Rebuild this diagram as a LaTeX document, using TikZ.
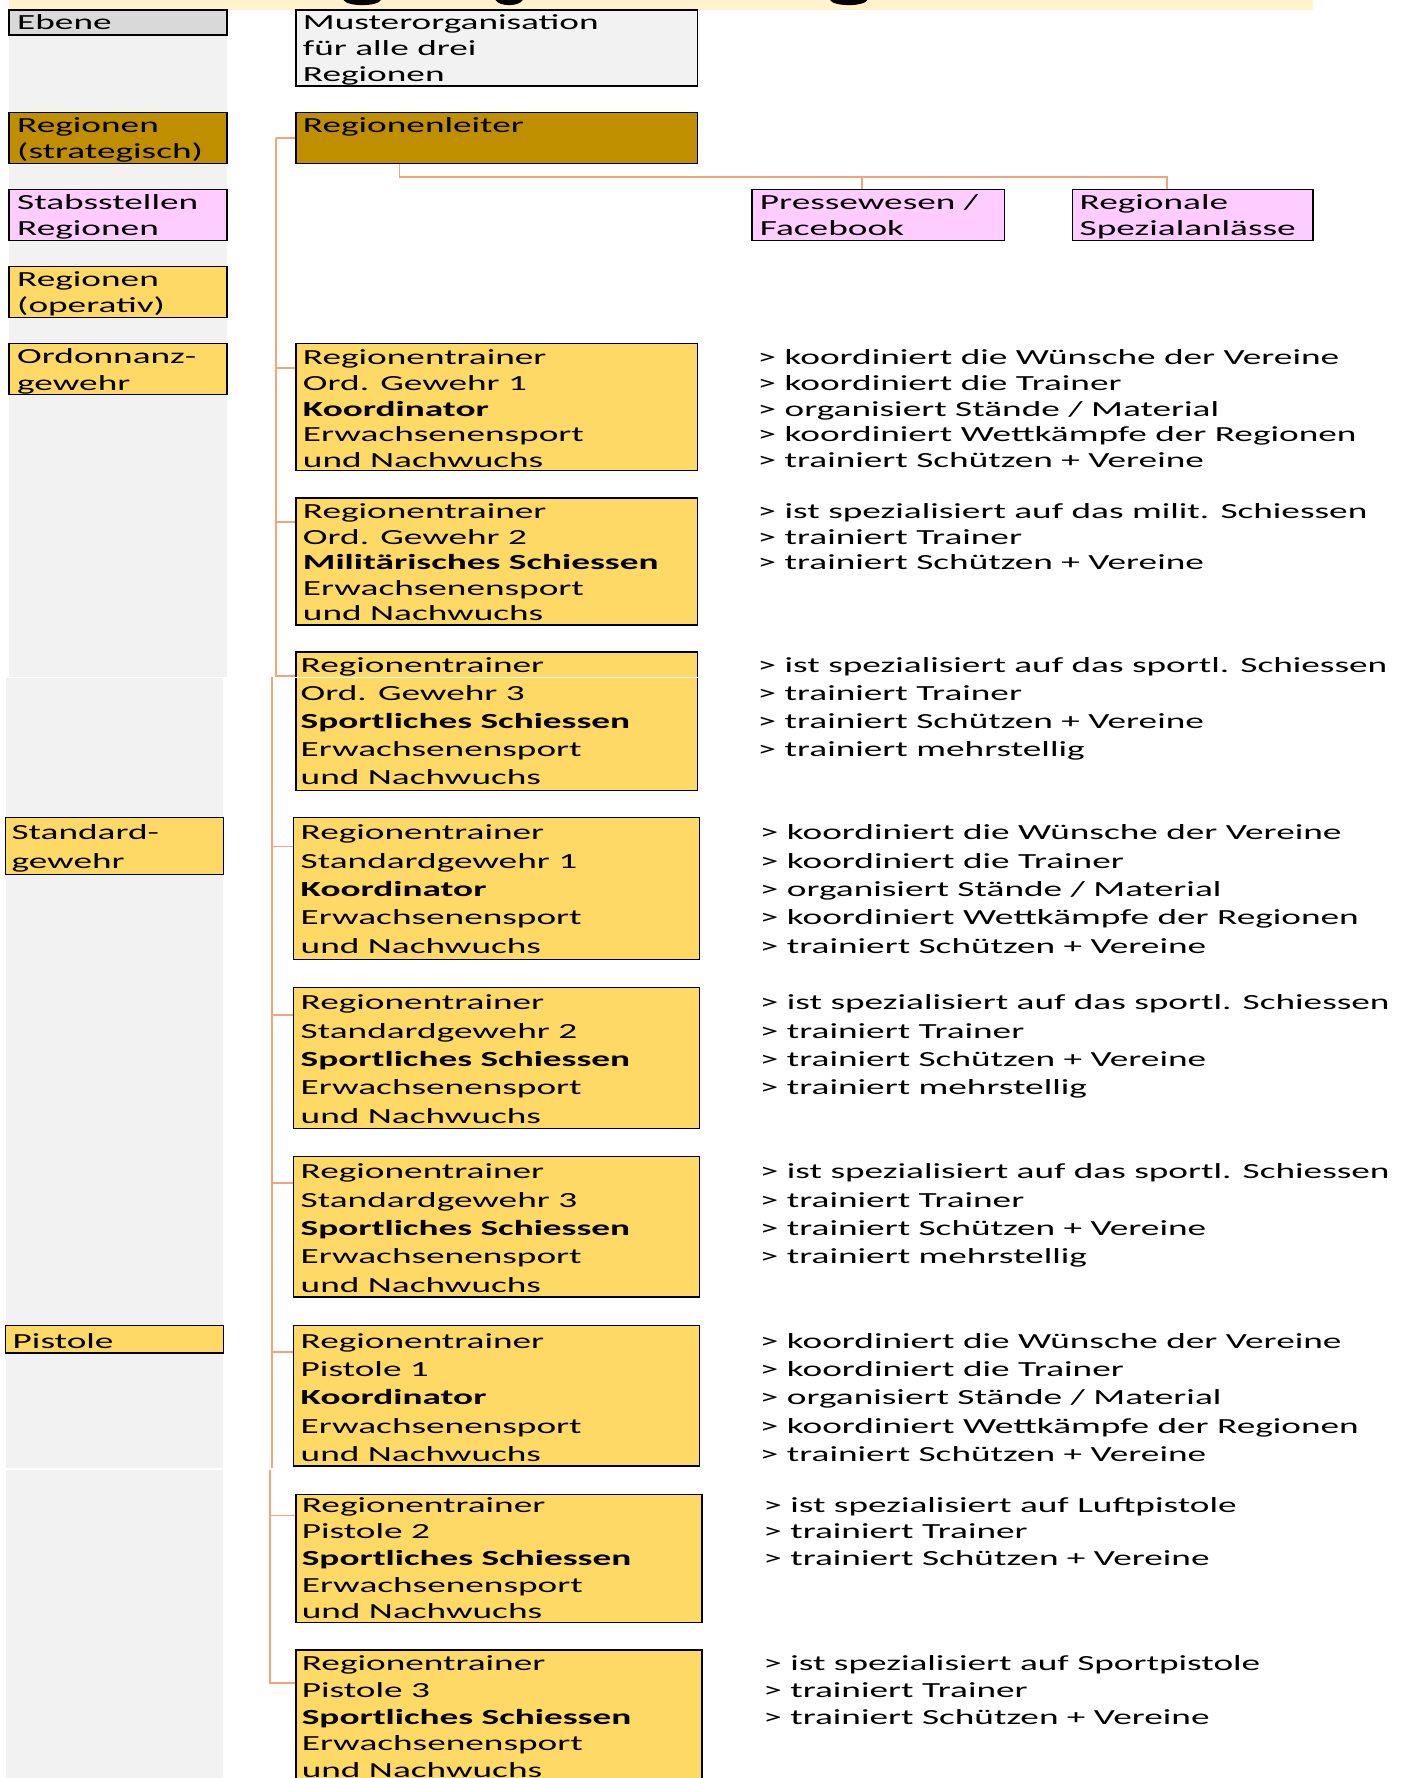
\documentclass[tikz,border=0pt]{standalone}
\usepackage{fontspec}
\setmainfont{Carlito}[FakeStretch=1.73]
\usetikzlibrary{fit,calc}
\definecolor{grcol}{HTML}{F2F2F2}
\definecolor{ebenecol}{HTML}{D9D9D9}
\definecolor{goldcol}{HTML}{BF8F00}
\definecolor{pinkcol}{HTML}{FFCCFF}
\definecolor{ylcol}{HTML}{FFD966}
\definecolor{bandcol}{HTML}{FFF2CC}
\definecolor{conncol}{RGB}{244,165,120}
\newcommand\lns[2]{{\fontsize{19}{#1}\selectfont\begin{tabular}[t]{@{}l@{}}#2\end{tabular}}}
\newcommand\descA{> koordiniert die Wünsche der Vereine\\> koordiniert die Trainer\\> organisiert Stände / Material\\> koordiniert Wettkämpfe der Regionen\\> trainiert Schützen + Vereine}
\newcommand\descS{> ist spezialisiert auf das sportl. Schiessen\\> trainiert Trainer\\> trainiert Schützen + Vereine\\> trainiert mehrstellig}
\begin{document}
\begin{tikzpicture}[x=1pt,y=-1pt,
  boxst/.style={draw=black, line width=1.3pt, inner sep=0pt, rectangle},
  txt/.style={anchor=base west, inner sep=0pt},
  link/.style={draw=conncol, line width=1.4pt}]
\useasboundingbox (0,0) rectangle (1240,1568);
\clip (0,0) rectangle (1240,1568);
\fill[white] (0,0) rectangle (1240,1568);
% title band (cut off)
\fill[bandcol] (8,0) rectangle (1158,9);
\fill[black] (303,0) .. controls (306,6) and (333,6) .. (336,0) -- cycle;
\fill[black] (437,0) .. controls (440,6) and (458,6) .. (461,0) -- cycle;
\fill[black] (732,0) .. controls (735,6) and (762,6) .. (765,0) -- cycle;
% grey level column
\fill[grcol] (8,9) rectangle (200,597);
\fill[grcol] (5,598) rectangle (197,1295);
\fill[grcol] (5,1296) rectangle (197,1570);
% level labels
\node[boxst, fill=ebenecol, fit={(8,9) (200,31)}] (ebene) {};
\node[txt] (ebenet) at (15,26) {\lns{23}{Ebene}};
\node[boxst, fill=goldcol, fit={(8,99) (200,144)}] (strat) {};
\node[txt] (stratt) at (15,117) {\lns{22.5}{Regionen\\(strategisch)}};
\node[boxst, fill=pinkcol, fit={(8,167) (200,212)}] (stabs) {};
\node[txt] (stabst) at (15,185) {\lns{23}{Stabsstellen\\Regionen}};
\node[boxst, fill=ylcol, fit={(8,235) (200,280)}] (oper) {};
\node[txt] (opert) at (15,253) {\lns{23}{Regionen\\(operativ)}};
\node[boxst, fill=ylcol, fit={(8,303) (200,348)}] (ordo) {};
\node[txt] (ordot) at (15,321) {\lns{23}{Ordonnanz-\\gewehr}};
\node[boxst, fill=ylcol, fit={(5,721) (197,771)}] (std) {};
\node[txt] (stdt) at (10,740) {\lns{26}{Standard-\\gewehr}};
\node[boxst, fill=ylcol, fit={(5,1169) (197,1193)}] (pist) {};
\node[txt] (pistt) at (11,1189) {\lns{23}{Pistole}};
% upper boxes
\node[boxst, fill=grcol, fit={(261,9) (615,76)}] (muster) {};
\node[txt] (mustert) at (267,26) {\lns{23}{Musterorganisation\\für alle drei\\Regionen}};
\node[boxst, fill=goldcol, fit={(261,99) (615,144)}] (leiter) {};
\node[txt] (leitert) at (267,117) {\lns{23}{Regionenleiter}};
\node[boxst, fill=pinkcol, fit={(663,167) (886,212)}] (presse) {};
\node[txt] (presset) at (670,185) {\lns{23}{Pressewesen /\\Facebook}};
\node[boxst, fill=pinkcol, fit={(946,167) (1158,212)}] (regio) {};
\node[txt] (regiot) at (952,185) {\lns{23}{Regionale\\Spezialanlässe}};
% trainer boxes
\node[boxst, fill=ylcol, fit={(261,303) (615,415)}] (t1) {};
\node[boxst, fill=ylcol, fit={(261,439) (615,551)}] (t2) {};
\node[boxst, fill=ylcol, fit={(261,575) (615,697)}] (t3) {};
\draw[white, line width=1pt] (258,597.5) -- (619,597.5);
\node[boxst, fill=ylcol, fit={(259,721) (617,846)}] (t4) {};
\node[boxst, fill=ylcol, fit={(259,871) (617,995)}] (t5) {};
\node[boxst, fill=ylcol, fit={(259,1020) (617,1144)}] (t6) {};
\node[boxst, fill=ylcol, fit={(259,1169) (617,1293)}] (t7) {};
\node[boxst, fill=ylcol, fit={(261,1318) (619,1431)}] (t8) {};
\node[boxst, fill=ylcol, fit={(261,1455) (619,1590)}] (t9) {};
\node[txt] (t1t) at (267,321.5) {\lns{22.75}{Regionentrainer\\Ord. Gewehr 1\\\textbf{Koordinator}\\Erwachsenensport\\und Nachwuchs}};
\node[txt] (t2t) at (267,457.5) {\lns{22.5}{Regionentrainer\\Ord. Gewehr 2\\\textbf{Militärisches Schiessen}\\Erwachsenensport\\und Nachwuchs}};
\node[txt] (t3t) at (265,593.5) {\lns{24.5}{Regionentrainer\\Ord. Gewehr 3\\\textbf{Sportliches Schiessen}\\Erwachsenensport\\und Nachwuchs}};
\node[txt] (t4t) at (265,740.5) {\lns{25}{Regionentrainer\\Standardgewehr 1\\\textbf{Koordinator}\\Erwachsenensport\\und Nachwuchs}};
\node[txt] (t5t) at (265,890.5) {\lns{25}{Regionentrainer\\Standardgewehr 2\\\textbf{Sportliches Schiessen}\\Erwachsenensport\\und Nachwuchs}};
\node[txt] (t6t) at (265,1039.5) {\lns{25}{Regionentrainer\\Standardgewehr 3\\\textbf{Sportliches Schiessen}\\Erwachsenensport\\und Nachwuchs}};
\node[txt] (t7t) at (265,1189.5) {\lns{24.75}{Regionentrainer\\Pistole 1\\\textbf{Koordinator}\\Erwachsenensport\\und Nachwuchs}};
\node[txt] (t8t) at (266,1333.5) {\lns{23.5}{Regionentrainer\\Pistole 2\\\textbf{Sportliches Schiessen}\\Erwachsenensport\\und Nachwuchs}};
\node[txt] (t9t) at (266,1473.5) {\lns{23.5}{Regionentrainer\\Pistole 3\\\textbf{Sportliches Schiessen}\\Erwachsenensport\\und Nachwuchs}};
% descriptions
\node[txt] (d1) at (668,321.5) {\lns{22.75}{\descA}};
\node[txt] (d2) at (668,457.5) {\lns{22.5}{> ist spezialisiert auf das milit. Schiessen\\> trainiert Trainer\\> trainiert Schützen + Vereine}};
\node[txt] (d3) at (668,593.5) {\lns{24.5}{\descS}};
\node[txt] (d4) at (670,740.5) {\lns{25}{\descA}};
\node[txt] (d5) at (670,890.5) {\lns{25}{\descS}};
\node[txt] (d6) at (670,1039.5) {\lns{25}{\descS}};
\node[txt] (d7) at (670,1189.5) {\lns{24.75}{\descA}};
\node[txt] (d8) at (673,1333.5) {\lns{23.5}{> ist spezialisiert auf Luftpistole\\> trainiert Trainer\\> trainiert Schützen + Vereine}};
\node[txt] (d9) at (673,1473.5) {\lns{23.5}{> ist spezialisiert auf Sportpistole\\> trainiert Trainer\\> trainiert Schützen + Vereine}};
% connectors: staff positions
\coordinate (lb) at ($(leiter.south west)+(92,0)$);
\coordinate (pt) at ($(presse.north west)+(98,0)$);
\coordinate (rt) at ($(regio.north west)+(84,0)$);
\draw[link] (lb) -- (lb |- 0,156) -| (rt);
\draw[link] (pt |- 0,156) -- (pt);
% connectors: trainers
\coordinate (s1) at ($(t1.north west)+(0,22)$);
\coordinate (s2) at ($(t2.north west)+(0,22)$);
\coordinate (s3) at ($(t3.north west)+(0,22)$);
\coordinate (s4) at ($(t4.north west)+(0,26)$);
\coordinate (s5) at ($(t5.north west)+(0,25)$);
\coordinate (s6) at ($(t6.north west)+(0,24)$);
\coordinate (s7) at ($(t7.north west)+(0,24)$);
\coordinate (s8) at ($(t8.north west)+(0,19)$);
\coordinate (s9) at ($(t9.north west)+(0,30)$);
\draw[link] (leiter.west) -- ++(-17,0) coordinate (j0);
\draw[link] (j0) |- (s1);
\draw[link] (j0) |- (s2);
\draw[link] (j0) |- (s3);
\coordinate (j1) at (240,597);
\draw[link] (j1) |- (s4);
\draw[link] (j1) |- (s5);
\draw[link] (j1) |- (s6);
\draw[link] (j1) -- (240,1295);
\draw[link] (j1 |- s7) -- (s7);
\coordinate (j2) at (238,1296);
\draw[link] (j2) |- (s8);
\draw[link] (j2) |- (s9);
\end{tikzpicture}
\end{document}
